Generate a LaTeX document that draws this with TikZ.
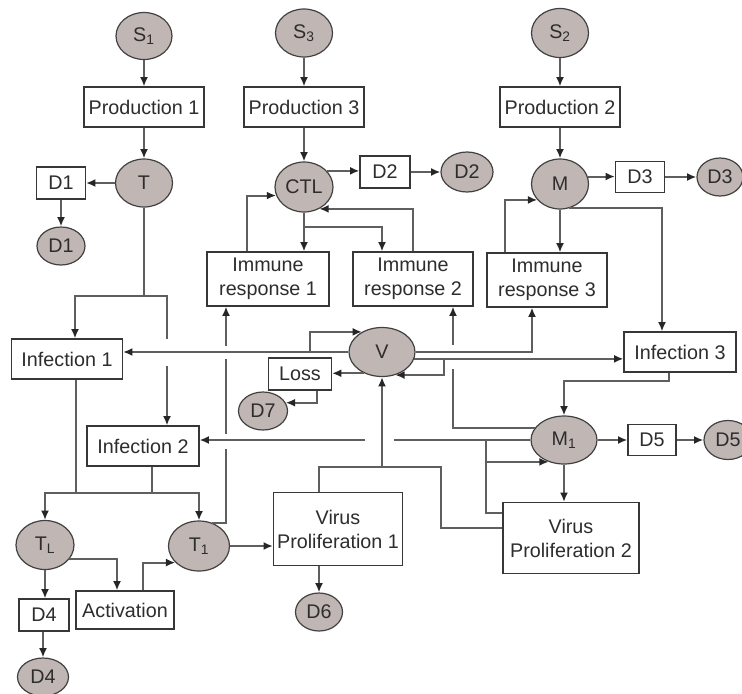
\documentclass[tikz,border=0pt]{standalone}
\usepackage{fontspec}
\setmainfont{Liberation Sans}
\usetikzlibrary{arrows.meta,calc,shapes.geometric}
\definecolor{poolfill}{RGB}{192,182,180}
\definecolor{poolline}{RGB}{65,65,65}
\definecolor{procline}{RGB}{55,55,55}
\definecolor{flowgray}{RGB}{95,95,95}
\definecolor{txt}{RGB}{45,45,45}
\tikzset{
	pool/.style={ellipse, draw=poolline, fill=poolfill, line width=0.9pt, inner sep=0pt},
	proc/.style={rectangle, draw=procline, fill=white, line width=0.85pt, inner sep=1pt, align=center},
	wh/.style 2 args={minimum width=#1*0.75pt, minimum height=#2*0.75pt},
	flow/.style={draw=flowgray, line width=1.5pt},
	arr/.style={flow, -{Latex[length=7pt,width=6pt,color=black!85]}}
}
\begin{document}
\begin{tikzpicture}[x=0.75pt,y=-0.75pt,font=\fontsize{14.8}{18}\selectfont,text=txt]
			\useasboundingbox (0,0) rectangle (742,693);
			% sources, production, populations
			\node[pool,wh={56}{47}] (S1) at (144,36) {S\textsubscript{1}};
			\node[pool,wh={57}{48}] (S3) at (304,33) {S\textsubscript{3}};
			\node[pool,wh={57}{49}] (S2) at (560,33) {S\textsubscript{2}};
			\node[proc,wh={120}{40}] (P1) at (144,107) {Production 1};
			\node[proc,wh={120}{40}] (P3) at (304,107) {Production 3};
			\node[proc,wh={120}{40}] (P2) at (560,107) {Production 2};
			\node[pool,wh={57}{48}] (T) at (144,183) {T};
			\node[pool,wh={58}{50}] (CTL) at (304,187) {CTL};
			\node[pool,wh={57}{50}] (M) at (560,184) {M};
			\node[proc,wh={49}{32}] (D1b) at (61,183) {D1};
			\node[pool,wh={48}{38}] (D1e) at (61,246) {D1};
			\node[proc,wh={50}{32}] (D2b) at (385,172) {D2};
			\node[pool,wh={52}{40}] (D2e) at (467,172) {D2};
			\node[proc,wh={49}{31}] (D3b) at (640,177) {D3};
			\node[pool,wh={46}{38}] (D3e) at (720,177) {D3};
			\node[proc,wh={122}{54}] (IR1) at (268,279) {Immune\\response 1};
			\node[proc,wh={120}{54}] (IR2) at (413,279) {Immune\\response 2};
			\node[proc,wh={120}{54}] (IR3) at (547,280) {Immune\\response 3};
			\node[pool,wh={66}{49}] (V) at (382,352) {V};
			\node[proc,wh={111}{40}] (Inf1) at (67,359) {Infection 1};
			\node[proc,wh={112}{40}] (Inf3) at (680,352) {Infection 3};
			\node[proc,wh={63}{32}] (Loss) at (300,374) {Loss};
			\node[pool,wh={49}{38}] (D7e) at (263,411) {D7};
			\node[proc,wh={112}{40}] (Inf2) at (143,446) {Infection 2};
			\node[pool,wh={66}{48}] (M1) at (564,440) {M\textsubscript{1}};
			\node[proc,wh={48}{31}] (D5b) at (652,440) {D5};
			\node[pool,wh={48}{39}] (D5e) at (728,440) {D5};
			\node[pool,wh={58}{49}] (TL) at (45,545) {T\textsubscript{L}};
			\node[pool,wh={61}{50}] (T1) at (199,546) {T\textsubscript{1}};
			\node[proc,wh={129}{73}] (VP1) at (338,529) {Virus\\Proliferation 1};
			\node[proc,wh={136}{71}] (VP2) at (571,538) {Virus\\Proliferation 2};
			\node[proc,wh={50}{32}] (D4b) at (44,615) {D4};
			\node[proc,wh={98}{38}] (Act) at (125,610) {Activation};
			\node[pool,wh={47}{38}] (D6e) at (319,612) {D6};
			\node[pool,wh={51}{38}] (D4e) at (43,677) {D4};
			% production
			\draw[arr] (S1) -- (P1);
			\draw[arr] (P1) -- (T);
			\draw[arr] (S3) -- (P3);
			\draw[arr] (P3) -- (CTL);
			\draw[arr] (S2) -- (P2);
			\draw[arr] (P2) -- (M);
			% deaths
			\draw[arr] (T) -- (D1b);
			\draw[arr] (D1b) -- (D1e);
			\draw[arr] (CTL.35) -- (CTL.35 -| D2b.west);
			\draw[arr] (D2b) -- (D2e);
			\draw[arr] (M.15) -- (M.15 -| D3b.west);
			\draw[arr] (D3b) -- (D3e);
			% immune responses
			\coordinate (cb) at ($(CTL.south)+(0,14)$);
			\draw[arr] (CTL.south) -- (CTL.south |- IR1.north);
			\draw[arr] (cb) -| ($(IR2.north)+(-31,0)$);
			\draw[arr] ($(IR1.north)+(-21,0)$) |- (CTL.197);
			\draw[arr] (IR2.north) |- (CTL.-55);
			\draw[arr] (M.south) -- (M.south |- IR3.north);
			\draw[arr] ($(IR3.north)+(-42,0)$) |- (M.215);
			\draw[arr] (M.-70) -| ($(Inf3.north)+(-18,0)$);
			% infection of T
			\coordinate (tj) at ($(T.south)+(0,88)$);
			\draw[flow] (T.south) -- (tj);
			\draw[arr] (tj) -| ($(Inf1.north)+(8,0)$);
			\draw[flow] (tj) -| ($(Inf2.north)+(24,-86)$);
			\draw[arr] ($(Inf2.north)+(24,-59)$) -- ($(Inf2.north)+(24,0)$);
			% virus
			\coordinate (vl) at ($(V.west)+(-38,0)$);
			\coordinate (vr) at ($(V.-12)+(30,0)$);
			\draw[arr] (V.west) -- (V.west -| Inf1.east);
			\draw[arr] (vl) |- (V.135);
			\draw[arr] (V.-130) -- (V.-130 -| Loss.east);
			\draw[arr] ($(Loss.south)+(17,0)$) |- (D7e.20);
			\draw[arr] (V.east) -| ($(IR3.south)+(-15,0)$);
			\draw[arr] (V.-12) -- (V.-12 -| Inf3.west);
			\draw[arr] (vr) |- (V.-60);
			% infected macrophages
			\coordinate (mj) at ($(M1.west)+(-44,0)$);
			\draw[arr] ($(Inf3.south)+(-11,0)$) -- ++(0,8) -| (M1.north);
			\draw[flow] (M1.157) -| ($(IR2.south)+(40,62)$);
			\draw[arr] ($(IR2.south)+(40,38)$) -- ($(IR2.south)+(40,0)$);
			\draw[flow] (M1.west) -- ($(M1.west)+(-136,0)$);
			\draw[arr] ($(M1.west)+(-165,0)$) -- (M1.west -| Inf2.east);
			\draw[arr] (mj) |- (M1.-125);
			\draw[flow] (mj) |- ($(VP2.west)+(0,-25)$);
			\draw[arr] (M1.south) -- (M1.south |- VP2.north);
			\draw[arr] (M1) -- (D5b);
			\draw[arr] (D5b) -- (D5e);
			% proliferation
			\coordinate (pj) at ($(V.south)+(0,90.5)$);
			\draw[flow] ($(VP1.north)+(-19,0)$) |- ($(VP2.west)+(-61,-71)$) |- ($(VP2.west)+(0,-10)$);
			\draw[arr] (pj) -- (V.south);
			\draw[arr] ($(VP1.south)+(-19,0)$) -- (D6e);
			% T cells
			\coordinate (jl) at ($(Inf1.south)+(9,113)$);
			\coordinate (jr) at ($(Inf2.south)+(9,26)$);
			\draw[flow] ($(Inf1.south)+(9,0)$) -- (jl);
			\draw[flow] ($(Inf2.south)+(9,0)$) -- (jr);
			\draw[flow] (jl) -- (jr);
			\draw[arr] (jl) -| (TL.north);
			\draw[arr] (jr) -| (T1.north);
			\draw[arr] (TL.south) -- (TL.south |- D4b.north);
			\draw[arr] (D4b.south -| D4e.north) -- (D4e.north);
			\draw[arr] (TL.-30) -| ($(Act.north)+(-8,0)$);
			\draw[arr] ($(Act.north)+(18,0)$) |- (T1.215);
			\draw[arr] (T1.east) -- (T1.east -| VP1.west);
			\draw[flow] (T1.60) -| ($(IR1.south)+(-42,142)$);
			\draw[flow] ($(IR1.south)+(-42,127)$) -- ($(IR1.south)+(-42,52)$);
			\draw[arr] ($(IR1.south)+(-42,39)$) -- ($(IR1.south)+(-42,0)$);
\end{tikzpicture}
\end{document}
